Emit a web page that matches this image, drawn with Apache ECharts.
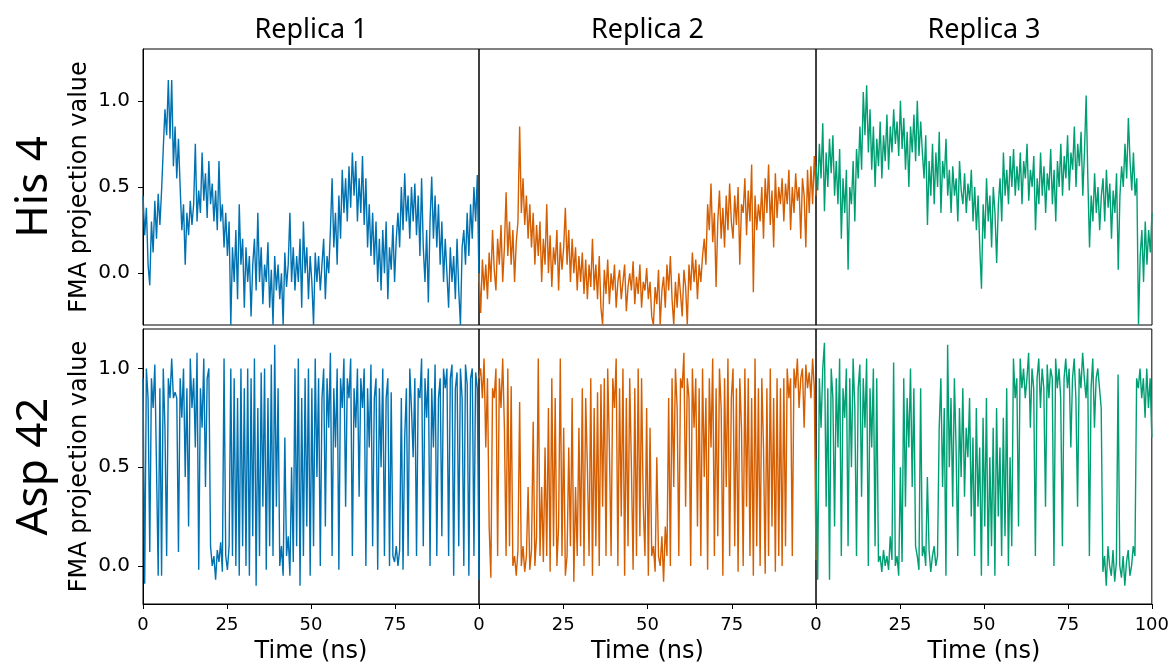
<!DOCTYPE html>
<html>
<head>
<meta charset="utf-8">
<title>FMA projection</title>
<script src="https://cdn.jsdelivr.net/npm/echarts@6/dist/echarts.min.js"></script>
<style>
  html, body { margin: 0; padding: 0; background: #fff; }
  #chart { width: 1172px; height: 665px; }
</style>
</head>
<body>
<div id="chart"></div>
<script>
// 每条曲线 200 个采样点，0 ~ 100 ns
const replicas = ['Replica 1', 'Replica 2', 'Replica 3'];
const residues = ['His 4', 'Asp 42'];
const colors = ['#0072B2', '#D55E00', '#009E73'];
const xTicks = [0, 25, 50, 75, 100];
const yTicks = [0, 0.5, 1.0];

// His 4
const his4Rep1 = [
  0.45, 0.22, 0.38, 0.05, -0.07, 0.30, 0.12, 0.42, 0.20, 0.46,
  0.28, 0.48, 0.72, 0.95, 0.80, 1.12, 0.78, 1.12, 0.62, 0.85,
  0.55, 0.78, 0.50, 0.25, 0.40, 0.05, 0.35, 0.22, 0.42, 0.28,
  0.40, 0.75, 0.30, 0.48, 0.35, 0.70, 0.42, 0.58, 0.32, 0.65,
  0.40, 0.52, 0.30, 0.48, 0.25, 0.65, 0.30, 0.40, 0.15, 0.35,
  0.10, 0.30, -0.30, 0.15, -0.05, 0.25, -0.15, 0.40, 0.05, 0.20,
  -0.20, 0.15, -0.05, 0.10, -0.25, 0.05, 0.20, -0.10, 0.35, -0.05,
  0.15, -0.18, 0.05, -0.05, 0.18, -0.20, 0.02, -0.30, 0.10, -0.10,
  0.05, -0.15, 0.00, -0.30, 0.12, -0.08, 0.05, 0.35, -0.05, 0.15,
  -0.10, 0.10, -0.05, 0.20, -0.20, 0.30, 0.00, 0.15, -0.15, 0.10,
  -0.05, -0.30, 0.12, -0.05, 0.10, -0.10, 0.05, 0.20, -0.15, 0.10,
  0.00, 0.25, 0.55, 0.15, 0.35, 0.05, 0.45, 0.20, 0.60, 0.35,
  0.55, 0.30, 0.62, 0.38, 0.70, 0.45, 0.65, 0.30, 0.55, 0.35,
  0.68, 0.28, 0.55, 0.15, 0.40, 0.10, 0.35, 0.05, 0.30, -0.05,
  0.20, -0.10, 0.25, 0.00, 0.30, -0.15, 0.15, 0.02, 0.28, -0.05,
  0.20, 0.35, 0.15, 0.50, 0.25, 0.58, 0.30, 0.45, 0.20, 0.50,
  0.30, 0.52, 0.22, 0.45, 0.10, 0.55, 0.15, -0.05, 0.25, -0.17,
  0.30, 0.56, 0.20, 0.45, 0.15, 0.40, 0.05, 0.30, -0.05, 0.20,
  0.00, -0.20, 0.15, -0.05, 0.10, -0.15, 0.20, -0.10, -0.30, 0.15,
  0.25, 0.05, 0.35, 0.10, 0.40, 0.20, 0.50, 0.30, 0.57, -0.05
];
const his4Rep2 = [
  0.00, -0.23, 0.08, -0.10, 0.05, -0.15, 0.12, -0.05, 0.25, 0.02,
  -0.10, 0.20, 0.05, 0.28, -0.05, 0.15, 0.47, 0.10, 0.30, 0.05,
  0.25, -0.05, 0.18, 0.30, 0.85, 0.35, 0.55, 0.28, 0.45, 0.20,
  0.40, 0.15, 0.35, 0.05, 0.28, 0.10, 0.30, -0.05, 0.20, 0.05,
  0.40, 0.00, 0.22, -0.08, 0.15, 0.05, 0.25, -0.10, 0.18, 0.02,
  0.15, 0.38, 0.05, 0.25, -0.05, 0.20, 0.00, 0.15, -0.10, 0.10,
  -0.05, 0.12, -0.12, 0.08, -0.15, 0.05, -0.08, 0.20, -0.10, 0.05,
  -0.15, 0.10, -0.20, -0.30, 0.02, -0.12, 0.08, -0.18, 0.00, -0.10,
  0.05, -0.20, -0.05, 0.02, -0.15, -0.05, 0.05, -0.22, -0.08, 0.00,
  -0.10, 0.07, -0.18, -0.02, -0.12, 0.05, -0.20, -0.05, -0.10, 0.03,
  -0.15, -0.05, -0.25, -0.30, -0.08, -0.18, 0.02, -0.30, -0.10, -0.02,
  -0.20, 0.05, -0.10, 0.10, -0.15, -0.30, -0.05, -0.20, 0.00, -0.12,
  -0.25, 0.02, -0.08, -0.30, 0.05, -0.10, 0.12, -0.05, 0.08, -0.15,
  0.05, -0.05, 0.10, 0.20, 0.05, 0.40, 0.25, 0.52, 0.18, 0.35,
  -0.08, 0.30, 0.48, 0.20, 0.38, 0.15, 0.45, 0.25, 0.52, 0.30,
  0.20, 0.45, 0.28, 0.50, 0.05, 0.40, 0.35, 0.55, 0.22, 0.48,
  0.30, 0.63, -0.11, 0.45, 0.25, 0.40, 0.30, 0.50, 0.20, 0.55,
  0.35, 0.63, 0.28, 0.48, 0.15, 0.58, 0.32, 0.50, 0.40, 0.55,
  0.30, 0.52, 0.40, 0.60, 0.25, 0.50, 0.35, 0.58, 0.42, 0.50,
  0.20, 0.55, 0.45, 0.15, 0.60, 0.35, 0.62, 0.40, 0.68, 0.45
];
const his4Rep3 = [
  0.62, 0.48, 0.75, 0.55, 0.87, 0.36, 0.70, 0.50, 0.78, 0.58,
  0.80, 0.45, 0.65, 0.40, 0.72, 0.20, 0.55, 0.35, 0.60, 0.02,
  0.50, 0.40, 0.65, 0.30, 0.72, 0.55, 0.85, 0.60, 1.05, 0.80,
  1.09, 0.70, 0.95, 0.60, 0.85, 0.50, 0.78, 0.62, 0.88, 0.55,
  0.80, 0.65, 0.92, 0.60, 0.85, 0.70, 0.95, 0.75, 0.88, 0.68,
  1.00, 0.72, 0.90, 0.60, 0.82, 0.50, 0.85, 0.70, 0.92, 0.65,
  1.00, 0.68, 0.88, 0.70, 0.55, 0.80, 0.28, 0.65, 0.45, 0.75,
  0.40, 0.70, 0.50, 0.82, 0.35, 0.65, 0.55, 0.78, 0.45, 0.60,
  0.35, 0.62, 0.45, 0.55, 0.30, 0.65, 0.48, 0.40, 0.58, 0.35,
  0.52, 0.42, 0.60, 0.30, 0.50, 0.25, 0.45, 0.15, -0.09, 0.40,
  0.20, 0.55, 0.30, 0.45, 0.15, 0.50, 0.35, 0.06, 0.40, 0.55,
  0.30, 0.70, 0.45, 0.60, 0.40, 0.68, 0.50, 0.72, 0.45, 0.62,
  0.48, 0.70, 0.40, 0.65, 0.55, 0.75, 0.42, 0.60, 0.50, 0.68,
  0.25, 0.55, 0.40, 0.70, 0.45, 0.62, 0.35, 0.58, 0.48, 0.72,
  0.40, 0.60, 0.30, 0.65, 0.50, 0.75, 0.45, 0.68, 0.55, 0.80,
  0.48, 0.70, 0.60, 0.85, 0.50, 0.75, 0.62, 0.82, 0.45, 0.70,
  1.03, 0.55, 0.15, 0.45, 0.30, 0.58, 0.35, 0.50, 0.25, 0.45,
  0.55, 0.30, 0.60, 0.38, 0.52, 0.20, 0.48, 0.35, 0.58, 0.02,
  0.45, 0.62, 0.50, 0.75, 0.55, 0.90, 0.65, 0.48, 0.70, 0.45,
  0.55, -0.30, 0.10, 0.25, -0.05, 0.30, 0.05, 0.25, 0.12, 0.35
];

// Asp 42
const asp42Rep1 = [
  0.95, -0.09, 1.00, 0.85, 0.07, 0.95, 0.80, 1.02, 0.50, -0.05,
  0.90, -0.05, 1.00, 0.70, 0.05, 0.95, 0.85, 1.05, 0.85, 0.88,
  0.85, 0.07, 0.95, 0.75, 1.00, 0.45, 0.90, 0.20, 1.05, 0.80,
  0.95, 0.60, 1.08, -0.02, 0.90, 0.70, 1.05, 0.40, 0.95, 1.00,
  0.10, 0.00, 0.05, -0.07, 0.08, 0.02, 0.12, -0.03, 1.05, 0.05,
  -0.02, 0.10, 1.00, 0.05, 0.95, 0.00, 0.85, -0.05, 1.00, 0.10,
  0.90, 0.00, 1.00, -0.05, 0.95, 0.15, 1.05, -0.10, 0.80, 0.05,
  0.98, 0.30, 1.00, -0.02, 0.85, 0.10, 1.02, 0.05, 1.12, 0.30,
  0.90, 0.00, 0.10, -0.05, 0.65, 0.05, 0.15, -0.05, 0.50, 0.02,
  1.00, 0.10, 1.05, -0.10, 0.85, 0.05, 0.95, 0.20, 1.00, -0.05,
  0.90, 0.10, 1.05, 0.45, 0.95, 0.00, 0.85, 1.00, 0.20, 0.95,
  0.70, 1.08, 0.05, 0.90, 0.60, 1.00, -0.02, 0.95, 0.80, 1.05,
  0.30, 0.95, 0.85, 1.05, 0.05, 0.90, 0.70, 1.00, 0.35, 0.95,
  0.80, 1.00, 0.00, 0.90, 0.60, 1.02, 0.10, 0.85, 0.95, -0.02,
  0.90, 0.50, 1.00, 0.05, 0.85, 0.95, 0.00, 0.88, 0.05, 0.02,
  0.10, 0.00, 0.08, 0.85, -0.02, 0.65, 0.90, 0.05, 1.00, 0.80,
  0.55, 0.95, 0.05, 0.90, 0.85, 1.05, 0.10, 0.95, 0.75, 1.00,
  0.00, 0.90, 0.60, 1.02, 0.05, 0.85, 0.95, 0.15, 1.00, 0.90,
  1.00, 0.05, 0.95, 1.02, -0.05, 0.90, 0.98, 0.10, 1.00, 0.85,
  0.00, 1.02, 0.92, -0.05, 0.95, 1.00, 0.05, 0.98, 0.90, -0.07
];
const asp42Rep2 = [
  0.95, 1.00, 0.85, 1.05, 0.60, 0.95, 0.20, -0.06, 0.90, 0.85,
  1.00, 0.05, 0.95, 0.80, 1.05, 0.70, 0.05, 1.00, 0.10, 0.91,
  0.00, 0.05, -0.05, 0.08, 0.83, 0.00, 0.10, -0.03, 0.05, 0.40,
  -0.02, 0.08, 0.73, 0.00, 0.15, 1.05, 0.05, 0.40, 0.02, 0.60,
  0.05, 0.80, -0.03, 0.95, 0.10, 0.85, 0.00, 0.20, 1.05, 0.05,
  0.70, -0.05, 0.05, 0.60, 0.10, 0.85, -0.08, 0.40, 0.05, 0.70,
  0.10, 0.90, 0.00, 0.85, 0.50, 0.05, 0.95, -0.05, 0.80, 0.10,
  0.88, 0.00, 0.92, 0.30, 0.95, 0.05, 1.00, 0.60, 0.05, 0.95,
  0.80, 1.05, 0.00, 0.90, 0.25, 1.00, -0.05, 0.85, 0.10, 0.95,
  0.50, -0.02, 0.90, 0.05, 1.00, 0.15, 0.95, 0.30, 0.05, 0.80,
  -0.05, 0.70, 0.05, 0.10, -0.03, 0.55, 0.05, 0.00, 0.15, -0.08,
  0.20, 0.05, 0.85, 0.00, 0.95, 0.40, 1.00, 0.80, 0.05, 0.95,
  0.90, 1.08, 0.30, 0.95, 0.85, 0.00, 1.00, 0.70, 0.95, 0.20,
  0.90, 0.05, 1.00, 0.45, 0.85, -0.02, 0.95, 0.60, 1.05, 0.05,
  0.90, 0.15, 1.00, 0.80, -0.05, 0.95, 0.40, 1.05, 0.05, 0.85,
  1.00, 0.10, 0.90, -0.03, 0.95, 0.70, 0.00, 1.00, 0.30, 0.95,
  0.05, 0.85, -0.05, 1.05, 0.10, 0.90, 0.00, 0.95, 0.60, -0.04,
  0.90, 0.05, 1.00, 0.20, 0.85, -0.03, 0.95, 0.05, 0.90, 0.00,
  0.95, 0.10, 1.00, 0.85, 0.95, 0.05, 1.00, 0.90, 1.05, 0.80,
  0.95, 1.00, 0.70, 1.02, 0.90, 0.98, 0.85, 1.05, 0.90, 0.03
];
const asp42Rep3 = [
  0.54, -0.07, 0.95, 0.70, 1.00, 1.13, 0.30, 0.90, -0.07, 1.00,
  0.85, 0.20, 0.95, 0.60, 1.05, 0.05, 0.90, 0.75, 1.00, 0.10,
  0.95, 0.50, 1.05, 0.80, 0.05, 0.90, 1.02, 0.35, 0.95, 0.70,
  1.05, 0.00, 0.90, 0.60, 1.00, 0.10, 0.95, 0.02, 0.05, -0.03,
  0.08, 0.00, 0.05, -0.02, 0.15, 0.03, 1.03, 0.00, 0.05, -0.05,
  0.50, 0.02, 0.95, 0.30, 0.85, 0.60, 1.00, 0.40, 0.90, 0.10,
  0.05, -0.02, 0.90, 0.05, 0.10, 0.00, 0.45, 0.08, -0.03, 0.05,
  0.10, 0.00, 0.05, 0.70, 0.95, 0.40, 0.80, -0.05, 1.12, 0.50,
  0.85, 0.30, 0.95, 0.60, 0.05, 0.80, 0.45, 0.90, 0.35, 0.70,
  0.55, 0.85, 0.25, 0.65, 0.05, 0.80, 0.30, 0.60, -0.05, 0.75,
  0.20, 0.85, 0.00, 0.55, 0.10, 0.70, -0.05, 0.80, 0.25, 0.60,
  0.05, 0.75, 0.15, 0.90, 0.00, 0.55, 0.10, 1.05, 0.85, 0.95,
  0.20, 1.05, 0.90, 1.00, 0.85, 0.95, 1.08, 0.70, 1.00, 0.90,
  0.05, 0.95, 1.05, 0.80, 1.00, 0.90, 0.30, 1.02, 0.85, 1.00,
  0.95, 0.00, 1.05, 0.90, 1.00, 0.85, 0.10, 0.95, 1.05, 0.90,
  1.00, 0.60, 0.95, 1.05, 0.85, 0.30, 1.00, 0.90, 1.08, 0.95,
  0.85, 1.00, 0.05, 0.90, 1.05, 0.70, 0.95, 1.00, 0.90, 0.80,
  -0.03, 0.05, -0.10, 0.10, 0.00, -0.05, 0.08, -0.08, 0.02, 0.97,
  0.00, -0.06, 0.05, -0.10, 0.02, 0.08, -0.05, 0.00, 0.10, 0.05,
  0.95, 0.90, 1.00, 0.85, 0.95, 0.75, 1.00, 0.80, 0.95, 0.65
];

const rows = [
  [his4Rep1, his4Rep2, his4Rep3],
  [asp42Rep1, asp42Rep2, asp42Rep3]
];
const yRanges = [[-0.3, 1.3], [-0.193, 1.2]];

// 面板布局
const colLeft = [143, 479, 816];
const colWidth = [336, 337, 336];
const rowTop = [49, 329];
const rowHeight = [276, 275];

const chart = echarts.init(document.getElementById('chart'));

const grid = [], xAxis = [], yAxis = [], series = [];

rows.forEach((row, r) => {
  row.forEach((values, c) => {
    const idx = r * 3 + c;
    const bottom = r === 1;
    const left = c === 0;
    grid.push({
      left: colLeft[c], top: rowTop[r], width: colWidth[c], height: rowHeight[r],
      show: true, borderColor: '#000', borderWidth: 1, backgroundColor: 'transparent'
    });
    const xVals = c === 2 ? xTicks : xTicks.slice(0, 4);
    xAxis.push({
      gridIndex: idx, type: 'value', min: 0, max: 100, interval: 25,
      position: 'bottom',
      axisLine: { show: bottom, onZero: false, lineStyle: { color: '#000', width: 1 } },
      splitLine: { show: false },
      axisTick: { show: bottom, length: 5, lineStyle: { color: '#000', width: 1 }, customValues: xVals },
      axisLabel: {
        show: bottom, customValues: xVals, margin: 12,
        color: '#000', fontSize: 18, fontFamily: 'DejaVu Sans'
      },
      name: bottom ? 'Time (ns)' : '',
      nameLocation: 'middle', nameGap: 36,
      nameTextStyle: { color: '#000', fontSize: 24, fontFamily: 'DejaVu Sans' }
    });
    yAxis.push({
      gridIndex: idx, type: 'value', min: yRanges[r][0], max: yRanges[r][1],
      position: 'left',
      axisLine: { show: left, onZero: false, lineStyle: { color: '#000', width: 1 } },
      splitLine: { show: false },
      axisTick: { show: left, length: 5, lineStyle: { color: '#000', width: 1 }, customValues: yTicks },
      axisLabel: {
        show: left, customValues: yTicks, margin: 13,
        color: '#000', fontSize: 20, fontFamily: 'DejaVu Sans',
        formatter: v => v.toFixed(1)
      },
      name: left ? 'FMA projection value' : '',
      nameLocation: 'middle', nameRotate: 90, nameGap: 51,
      nameTextStyle: { color: '#000', fontSize: 24, fontFamily: 'DejaVu Sans' }
    });
    const step = 100 / (values.length - 1);
    series.push({
      type: 'line', xAxisIndex: idx, yAxisIndex: idx,
      data: values.map((v, i) => [i * step, v]),
      showSymbol: false, symbol: 'none',
      lineStyle: { color: colors[c], width: 1.4 },
      itemStyle: { color: colors[c] },
      clip: true, silent: true
    });
  });
});

// 标题文字
const graphic = [];
replicas.forEach((name, c) => {
  graphic.push({
    type: 'text', x: colLeft[c] + colWidth[c] / 2, y: 30,
    style: { text: name, fill: '#000', font: '27px "Noto Sans"', textAlign: 'center', textVerticalAlign: 'middle' }
  });
});
residues.forEach((name, r) => {
  graphic.push({
    type: 'text', x: 34, y: rowTop[r] + rowHeight[r] / 2, rotation: Math.PI / 2,
    style: { text: name, fill: '#000', font: '44px "Noto Sans"', textAlign: 'center', textVerticalAlign: 'middle' }
  });
});

chart.setOption({
  animation: false,
  backgroundColor: '#fff',
  grid, xAxis, yAxis, series, graphic
});
</script>
</body>
</html>
